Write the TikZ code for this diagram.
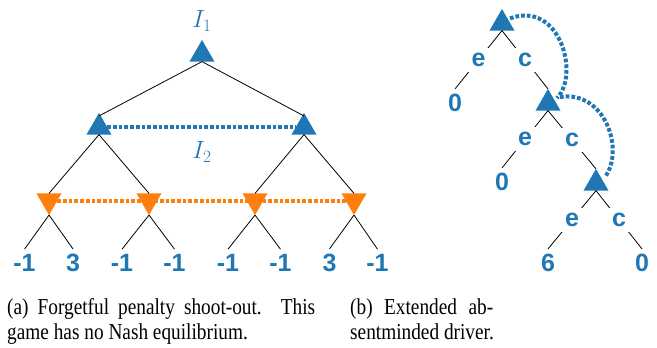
\documentclass[tikz,border=0pt]{standalone}
\usepackage{fontspec}
\setmainfont{Liberation Serif}
\newfontfamily\lblfont{Liberation Sans}
\usetikzlibrary{shapes.geometric,calc}
\definecolor{tblue}{HTML}{1F77B4}
\definecolor{torange}{HTML}{FF7F0E}
\begin{document}
\begin{tikzpicture}[x=1pt,y=-1pt,
  upT/.style={regular polygon, regular polygon sides=3, minimum size=28.9pt,
    inner sep=0pt, outer sep=0pt, fill=tblue, draw=none},
  downT/.style={upT, fill=torange, shape border rotate=180},
  treeedge/.style={line width=0.8pt, black},
  infoB/.style={tblue, line width=4pt, dash pattern=on 3.7pt off 2pt},
  infoO/.style={infoB, torange},
  payoff/.style={text=tblue, font=\lblfont\bfseries\fontsize{25}{29}\selectfont, inner sep=5pt},
  act/.style={payoff, fill=white, inner sep=5pt},
  infolbl/.style={text=tblue, font=\fontsize{24}{28}\selectfont, inner sep=0pt},
  captext/.style={font=\fontsize{19.3}{23}\selectfont, anchor=base west, inner sep=0pt}
]
\useasboundingbox (0,0) rectangle (657,348);

% ---------- left tree ----------
\node[upT] (r) at (202,54.4) {};
\node[upT] (aL) at (99,127.4) {};
\node[upT] (aR) at (304,127.4) {};
\node[downT] (o1) at (49,200.6) {};
\node[downT] (o2) at (149,200.6) {};
\node[downT] (o3) at (255,200.6) {};
\node[downT] (o4) at (354,200.6) {};
\node[infolbl] (I1) at (202,21) {$I_1$};
\node[infolbl] (I2) at (202,152) {$I_2$};

\node[payoff] (l1) at (24.5,263) {-1};
\node[payoff] (l2) at (73,263) {3};
\node[payoff] (l3) at (122,263) {-1};
\node[payoff] (l4) at (174.5,263) {-1};
\node[payoff] (l5) at (228,263) {-1};
\node[payoff] (l6) at (280.5,263) {-1};
\node[payoff] (l7) at (329.5,263) {3};
\node[payoff] (l8) at (377.5,263) {-1};

\draw[treeedge] (r.south) -- ([yshift=-3pt]aL.north);
\draw[treeedge] (r.south) -- ([yshift=-3pt]aR.north);
\draw[treeedge] (aL.south) -- (o1.north);
\draw[treeedge] (aL.south) -- (o2.north);
\draw[treeedge] (aR.south) -- (o3.north);
\draw[treeedge] (aR.south) -- (o4.north);
\draw[treeedge] (o1.south) -- (l1.north);
\draw[treeedge] (o1.south) -- (l2.north);
\draw[treeedge] (o2.south) -- (l3.north);
\draw[treeedge] (o2.south) -- (l4.north);
\draw[treeedge] (o3.south) -- (l5.north);
\draw[treeedge] (o3.south) -- (l6.north);
\draw[treeedge] (o4.south) -- (l7.north);
\draw[treeedge] (o4.south) -- (l8.north);

\draw[infoB] (aL) -- (aR);
\draw[infoO] (o1) -- (o4);

% ---------- right tree ----------
\node[upT] (t1) at (502,23.4) {};
\node[upT] (t2) at (548,103.4) {};
\node[upT] (t3) at (596,183.4) {};
\node[payoff] (z1) at (455,103) {0};
\node[payoff] (z2) at (502,182) {0};
\node[payoff] (z3) at (548,263) {6};
\node[payoff] (z4) at (642,263) {0};

\draw[treeedge] (t1.south) -- node[act] (e1) {e} (z1.north);
\draw[treeedge] (t1.south) -- node[act] (c1) {c} (t2.north);
\draw[treeedge] (t2.south) -- node[act] (e2) {e} (z2.north);
\draw[treeedge] (t2.south) -- node[act] (c2) {c} (t3.north);
\draw[treeedge] (t3.south) -- node[act] (e3) {e} (z3.north);
\draw[treeedge] (t3.south) -- node[act] (c3) {c} (z4.north);

\draw[infoB] ([shift={(8,-5)}]t1.center) .. controls ([shift={(58,-23.4)}]t1.center)
  and ([shift={(32,-28.4)}]t2.center) .. ([shift={(9,-5.4)}]t2.center);
\draw[infoB] ([shift={(12,-6.4)}]t2.center) .. controls ([shift={(57,-13.4)}]t2.center)
  and ([shift={(29,-33.4)}]t3.center) .. ([shift={(9,-6.4)}]t3.center);

% ---------- captions ----------
\node[captext] (ca1) at (7,314) {\scalebox{1}[1.18]{\makebox[308pt][s]{(a) Forgetful penalty shoot-out. This}}};
\node[captext] (ca2) at (7,339) {\scalebox{1}[1.18]{game has no Nash equilibrium.}};
\node[captext] (cb1) at (350,314) {\scalebox{1}[1.18]{\makebox[143pt][s]{(b) Extended ab-}}};
\node[captext] (cb2) at (350,339) {\scalebox{1}[1.18]{sentminded driver.}};
\end{tikzpicture}
\end{document}
